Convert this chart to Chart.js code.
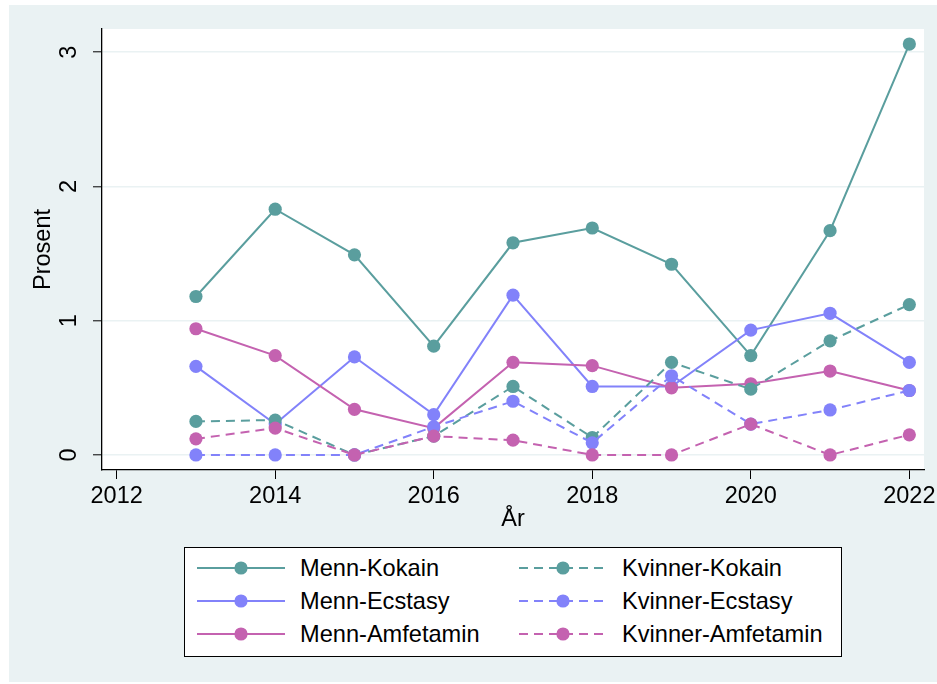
<!DOCTYPE html>
<html>
<head>
<meta charset="utf-8">
<script src="https://cdn.jsdelivr.net/npm/chart.js@4"></script>
<style>
  html, body { margin: 0; padding: 0; background: #ffffff; width: 937px; height: 684px; overflow: hidden; }
  #bg { position: absolute; left: 9px; top: 5px; width: 928px; height: 677px; background: #EAF2F3; }
  #wrap { position: absolute; left: 0; top: 0; width: 937px; height: 684px; }
  #legend { position: absolute; left: 184px; top: 547px; width: 656px; height: 108px; background: #fff; border: 1px solid #000;
            font-family: "Liberation Sans", Arial, sans-serif; font-size: 23.6px; color: #000; }
  .item { position: absolute; height: 30px; }
  .item svg { position: absolute; left: 0; top: 0; }
  .item span { position: absolute; top: 1px; white-space: nowrap; line-height: 28px; }
</style>
</head>
<body>
<div id="bg"></div>
<div id="wrap"><canvas id="c" width="937" height="684"></canvas></div>
<div id="legend"></div>
<script>
const years = [2013, 2014, 2015, 2016, 2017, 2018, 2019, 2020, 2021, 2022];
const mennKokain      = [1.18, 1.83, 1.49, 0.81, 1.58, 1.69, 1.42, 0.74, 1.67, 3.06];
const mennEcstasy     = [0.66, 0.23, 0.73, 0.30, 1.19, 0.51, 0.51, 0.93, 1.055, 0.69];
const mennAmfetamin   = [0.94, 0.74, 0.34, 0.20, 0.69, 0.665, 0.50, 0.53, 0.625, 0.48];
const kvinnerKokain   = [0.25, 0.26, 0.00, 0.14, 0.51, 0.13, 0.69, 0.49, 0.85, 1.12];
const kvinnerEcstasy  = [0.00, 0.00, 0.00, 0.21, 0.40, 0.09, 0.59, 0.23, 0.335, 0.48];
const kvinnerAmfetamin= [0.12, 0.20, 0.00, 0.14, 0.11, 0.00, 0.00, 0.23, 0.00, 0.15];
const seriesNames = ["Menn-Kokain", "Menn-Ecstasy", "Menn-Amfetamin", "Kvinner-Kokain", "Kvinner-Ecstasy", "Kvinner-Amfetamin"];
const xTicks = [2012, 2014, 2016, 2018, 2020, 2022];
const yTicks = [0, 1, 2, 3];
const xTitle = "År";
const yTitle = "Prosent";

const TEAL = "#5A9E9E", BLUE = "#8282FA", PINK = "#C462B0";
const seriesData = [mennKokain, mennEcstasy, mennAmfetamin, kvinnerKokain, kvinnerEcstasy, kvinnerAmfetamin];
const colors = [TEAL, BLUE, PINK, TEAL, BLUE, PINK];
const dashed = [false, false, false, true, true, true];
const DASH = [9, 6];
const FONT = "'Liberation Sans', Arial, sans-serif";

const datasets = seriesData.map((arr, i) => ({
  label: seriesNames[i],
  data: years.map((y, k) => ({ x: y, y: arr[k] })),
  borderColor: colors[i],
  backgroundColor: colors[i],
  borderWidth: 2,
  borderDash: dashed[i] ? DASH : [],
  pointRadius: 6.6,
  pointBorderWidth: 0,
  pointBackgroundColor: colors[i],
  tension: 0,
  order: 6 - i,
  clip: false
}));

const areaBg = {
  id: 'areaBg',
  beforeDraw(chart) {
    const { ctx, chartArea: a } = chart;
    ctx.save();
    ctx.fillStyle = '#ffffff';
    ctx.fillRect(a.left, a.top, a.right - a.left, a.bottom - a.top);
    ctx.restore();
  }
};

new Chart(document.getElementById('c'), {
  type: 'line',
  data: { datasets },
  plugins: [areaBg],
  options: {
    responsive: false,
    animation: false,
    devicePixelRatio: 1,
    layout: { padding: { left: 0, top: 29, right: 13, bottom: 134 } },
    plugins: { legend: { display: false }, tooltip: { enabled: false }, title: { display: false } },
    scales: {
      x: {
        type: 'linear',
        min: 2011.815,
        max: 2022.185,
        afterBuildTicks(s) { s.ticks = xTicks.map(v => ({ value: v })); },
        afterFit(s) { s.height = 80; s.paddingLeft = 0; s.paddingRight = 0; },
        grid: { drawOnChartArea: false, drawTicks: true, tickLength: 9, tickColor: '#000', tickWidth: 1 },
        border: { display: true, color: '#000', width: 1.3 },
        ticks: { color: '#000', font: { family: FONT, size: 23.5 }, padding: 3, maxRotation: 0, autoSkip: false,
                 callback: v => String(v) },
        title: { display: true, text: xTitle, color: '#000', font: { family: FONT, size: 23.5 }, padding: { top: 0, bottom: 16 } }
      },
      y: {
        type: 'linear',
        min: -0.112,
        max: 3.172,
        afterBuildTicks(s) { s.ticks = yTicks.map(v => ({ value: v })); },
        afterFit(s) { s.width = 102; s.paddingTop = 0; s.paddingBottom = 0; },
        grid: { drawOnChartArea: true, color: '#EAF2F3', lineWidth: 1.6, drawTicks: true, tickLength: 9, tickColor: '#000', tickWidth: 1 },
        border: { display: true, color: '#000', width: 1.3 },
        ticks: { color: '#000', font: { family: FONT, size: 23.5 }, padding: 17, minRotation: 90, maxRotation: 90,
                 crossAlign: 'center', autoSkip: false, callback: v => String(v) },
        title: { display: true, text: yTitle, color: '#000', font: { family: FONT, size: 23.5 }, padding: { top: 29, bottom: 0 } }
      }
    }
  }
});

// HTML legend
const legend = document.getElementById('legend');
const colX = [11, 333];      // sample start, relative to legend box
const rowY = [20, 53, 86];   // row centers
seriesData.forEach((arr, i) => {
  const col = i < 3 ? 0 : 1, row = i % 3;
  const item = document.createElement('div');
  item.className = 'item';
  item.style.left = colX[col] + 'px';
  item.style.top = (rowY[row] - 15) + 'px';
  item.style.width = '320px';
  const dash = dashed[i] ? 'stroke-dasharray="9 6"' : '';
  item.innerHTML =
    `<svg width="92" height="30"><line x1="1" y1="15" x2="89" y2="15" stroke="${colors[i]}" stroke-width="2" ${dash}/>` +
    `<circle cx="45" cy="15" r="6.6" fill="${colors[i]}"/></svg>` +
    `<span style="left:104px">${seriesNames[i]}</span>`;
  legend.appendChild(item);
});
</script>
</body>
</html>
